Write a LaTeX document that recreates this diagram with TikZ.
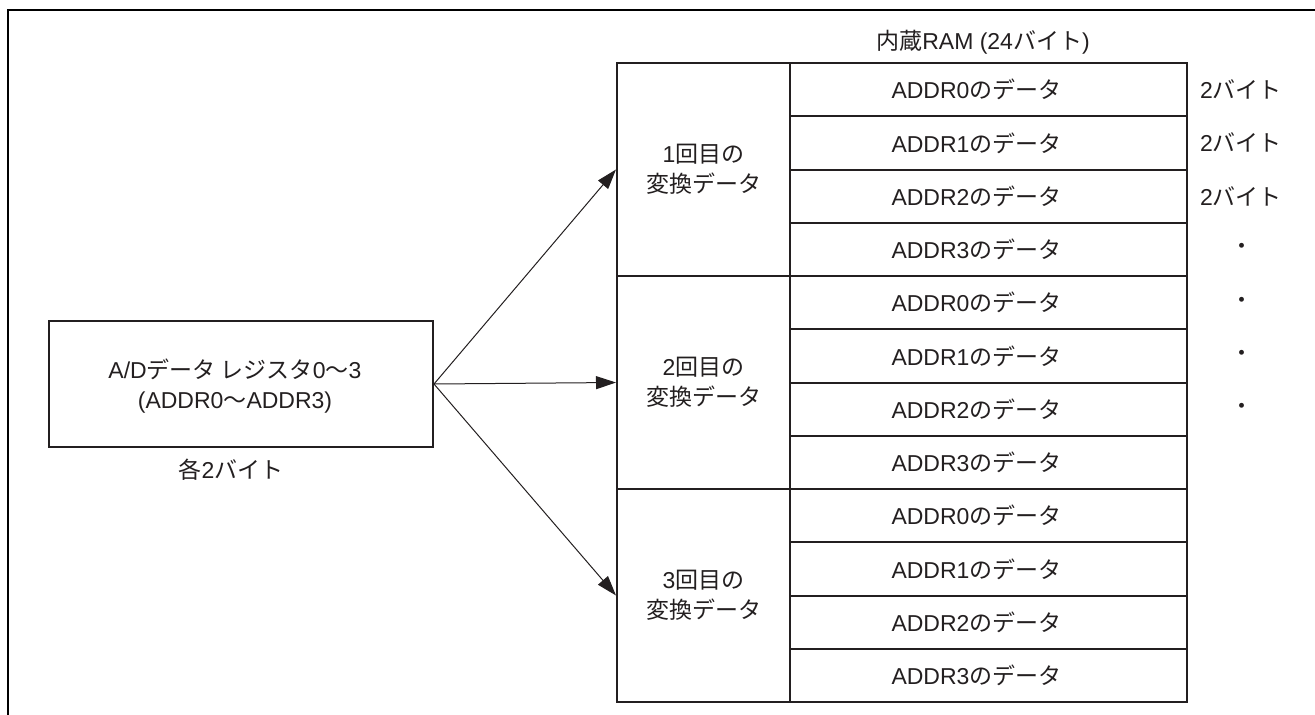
\documentclass[tikz,border=0pt]{standalone}
\usepackage{fontspec}
\setmainfont{Liberation Sans}
\newfontfamily\jp{Noto Sans CJK JP}
\usetikzlibrary{arrows.meta}
\newcommand\J[1]{{\jp #1}}
\definecolor{ink}{HTML}{231F20}
\begin{document}
\begin{tikzpicture}[x=1pt,y=-1pt,
  every node/.style={font=\fontsize{23}{30}\selectfont, inner sep=0pt, text=ink},
  cell/.style={draw=ink, line width=2pt, minimum width=397pt, minimum height=53.25pt},
  grp/.style={draw=ink, line width=2pt, minimum width=173pt, minimum height=213pt, align=center},
  regbox/.style={draw=ink, line width=2pt, minimum width=384pt, minimum height=126pt},
  arr/.style={draw=ink, line width=1pt, -{Triangle[length=20pt,width=13pt]}},
  frame/.style={draw=black, line width=2.5pt}
]
\useasboundingbox (0,0) rectangle (1315,715);
\draw[frame] (8,715) -- (8,10) -- (1315,10);

\node (title) at (983,42) {\J{内蔵}RAM (24\J{バイト})};

% memory cells
\foreach \i in {0,...,11}{
  \pgfmathsetmacro{\yy}{63+53.25*(\i+0.5)}
  \pgfmathtruncatemacro{\k}{mod(\i,4)}
  \node[cell, label={[xshift=-12pt]center:ADDR\k\J{のデータ}}] (c\i) at (988.5,\yy) {};
}

% group cells
\node[grp] (g1) at (703.5,169.5) {1\J{回目の}\\\J{変換データ}};
\node[grp] (g2) at (703.5,382.5) {2\J{回目の}\\\J{変換データ}};
\node[grp] (g3) at (703.5,595.5) {3\J{回目の}\\\J{変換データ}};

% right labels
\node (r0) at (1241,89.6) {2\J{バイト}};
\node (r1) at (1241,142.9) {2\J{バイト}};
\node (r2) at (1241,196.1) {2\J{バイト}};
\node (r3) at (1242,249.4) {\J{・}};
\node (r4) at (1242,302.6) {\J{・}};
\node (r5) at (1242,355.9) {\J{・}};
\node (r6) at (1242,409.1) {\J{・}};

% register
\node[regbox] (reg) at (241,384) {};
\node[align=center] (regtxt) at (235,386) {A/D\J{データ レジスタ}0\J{～}3\\(ADDR0\J{～}ADDR3)};
\node (each) at (231,470) {\J{各}2\J{バイト}};

\draw[arr] (reg.east) -- (g1.west);
\draw[arr] (reg.east) -- (g2.west);
\draw[arr] (reg.east) -- (g3.west);
\end{tikzpicture}
\end{document}
